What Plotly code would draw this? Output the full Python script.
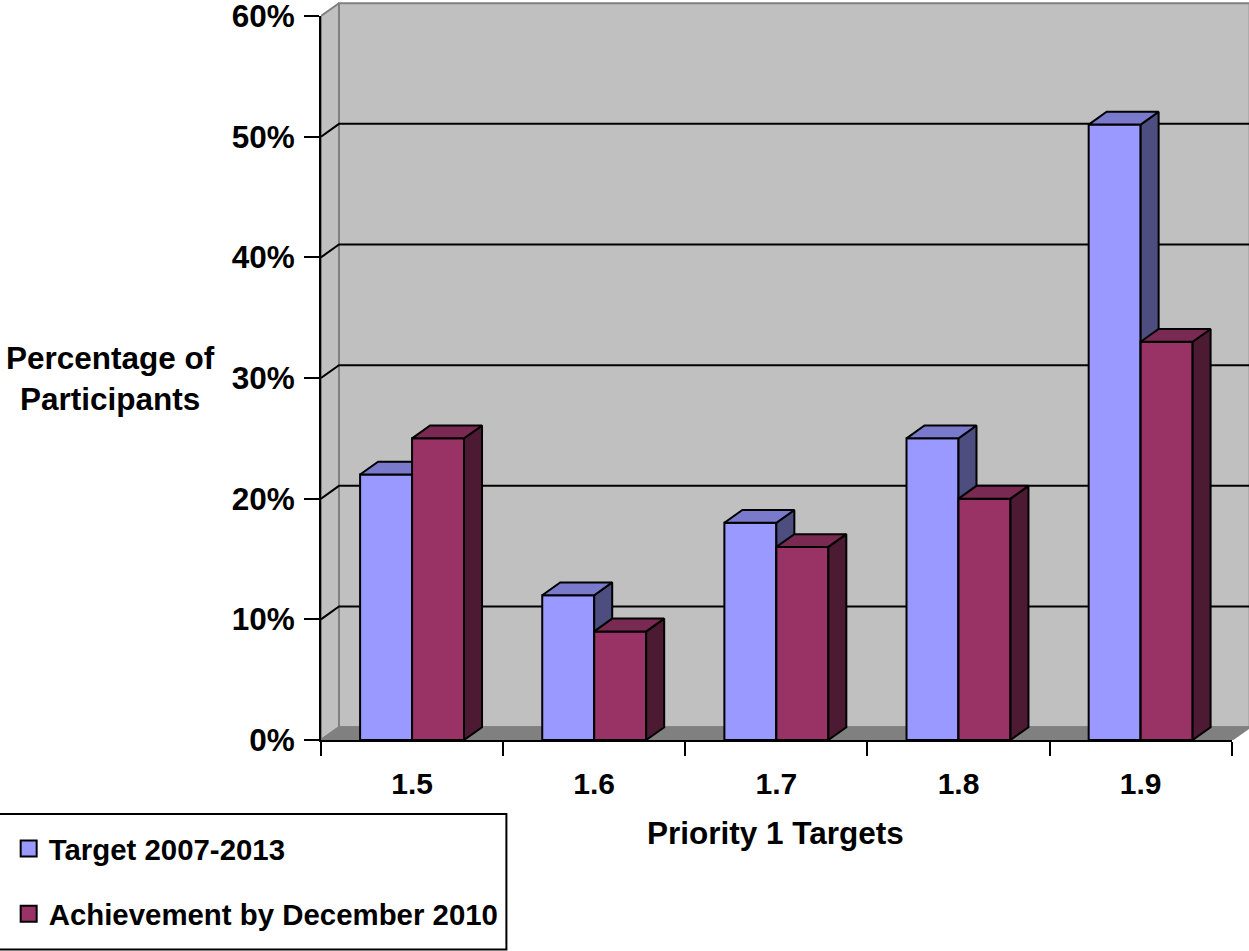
import plotly.graph_objects as go

# Chart data
categories = ["1.5", "1.6", "1.7", "1.8", "1.9"]
target_values = [22, 12, 18, 25, 51]
achievement_values = [25, 9, 16, 20, 33]
y_ticks = [0, 10, 20, 30, 40, 50, 60]
series_names = ["Target 2007-2013", "Achievement by December 2010"]

# Figure geometry (pixels)
WIDTH, HEIGHT = 1249, 951
LEFT, RIGHT, TOP, BOTTOM = 320.5, 1231.7, 16, 740
PLOT_TOP = 1

# Axis ranges, and the oblique depth of the pseudo-3D box in axis units
X_MIN, X_MAX = 1.45, 1.95
Y_MIN, Y_MAX = 0, 60
x_scale = (RIGHT - LEFT) / (X_MAX - X_MIN)
y_scale = (BOTTOM - TOP) / (Y_MAX - Y_MIN)
X_FULL = X_MIN + (WIDTH - LEFT) / x_scale
Y_FULL = Y_MIN + (BOTTOM - PLOT_TOP) / y_scale
DX = 18 / x_scale
DY = 12.8 / y_scale
BAR_W = 52 / x_scale

FONT = "Liberation Sans"
BLACK = "#000000"
WALL = "#C0C0C0"
FLOOR = "#808080"
COLORS = {
    "target": ("#9999FF", "#4D4D80", "#7A7ACC"),
    "achievement": ("#993366", "#4D1A33", "#7A2952"),
}


def paper_x(px):
    return (px - LEFT) / (WIDTH - LEFT)


def paper_y(py):
    return (BOTTOM - py) / (BOTTOM - PLOT_TOP)


def polygon(xs, ys, fill, line, width, xaxis="x", yaxis="y"):
    return go.Scatter(
        x=xs, y=ys, mode="lines", fill="toself", fillcolor=fill,
        line=dict(color=line, width=width),
        hoverinfo="skip", showlegend=False, xaxis=xaxis, yaxis=yaxis,
    )


def box_faces(left_edges, values):
    """Outline the right side and the top of every bar as separate polygons."""
    side_x, side_y, top_x, top_y = [], [], [], []
    for x0, v in zip(left_edges, values):
        x1 = x0 + BAR_W
        side_x += [x1, x1 + DX, x1 + DX, x1, x1, None]
        side_y += [0, DY, v + DY, v, 0, None]
        top_x += [x0, x0 + DX, x1 + DX, x1, x0, None]
        top_y += [v, v + DY, v + DY, v, v, None]
    return side_x, side_y, top_x, top_y


centers = [float(c) for c in categories]
fig = go.Figure()

# Walls and floor of the box
fig.add_trace(polygon(
    [X_MIN, X_MIN + DX, X_MIN + DX, X_MIN, X_MIN],
    [Y_MIN, Y_MIN + DY, Y_MAX + DY, Y_MAX, Y_MIN], WALL, FLOOR, 2))
fig.add_trace(polygon(
    [X_MIN + DX, X_MAX + DX, X_MAX + DX, X_MIN + DX, X_MIN + DX],
    [Y_MIN + DY, Y_MIN + DY, Y_MAX + DY, Y_MAX + DY, Y_MIN + DY], WALL, FLOOR, 2))
fig.add_trace(polygon(
    [X_MIN, X_MIN + DX, X_MAX + DX, X_MAX, X_MIN],
    [Y_MIN, Y_MIN + DY, Y_MIN + DY, Y_MIN, Y_MIN], FLOOR, FLOOR, 2))

# Gridlines run across the side wall and then along the back wall
grid_x, grid_y = [], []
for t in y_ticks[1:-1]:
    grid_x += [X_MIN, X_MIN + DX, X_MAX + DX, None]
    grid_y += [t, t + DY, t + DY, None]
fig.add_trace(go.Scatter(
    x=grid_x, y=grid_y, mode="lines", line=dict(color=BLACK, width=2),
    hoverinfo="skip", showlegend=False))

# Target bars sit on their own overlay above the walls
target_left = [c - BAR_W for c in centers]
front, side, top = COLORS["target"]
fig.add_trace(go.Bar(
    x=centers, y=target_values, width=BAR_W, offset=-BAR_W, name=series_names[0],
    marker=dict(color=front, line=dict(color=BLACK, width=2)), showlegend=False,
    xaxis="x2", yaxis="y2"))
sx, sy, tx, ty = box_faces(target_left, target_values)
fig.add_trace(polygon(sx, sy, side, BLACK, 2, "x2", "y2"))
fig.add_trace(polygon(tx, ty, top, BLACK, 2, "x2", "y2"))

# Achievement bars come next so they hide the target side faces
front, side, top = COLORS["achievement"]
fig.add_trace(go.Bar(
    x=centers, y=achievement_values, width=BAR_W, offset=0, name=series_names[1],
    marker=dict(color=front, line=dict(color=BLACK, width=2)), showlegend=False,
    xaxis="x3", yaxis="y3"))
sx, sy, tx, ty = box_faces(centers, achievement_values)
fig.add_trace(polygon(sx, sy, side, BLACK, 2, "x3", "y3"))
fig.add_trace(polygon(tx, ty, top, BLACK, 2, "x3", "y3"))

# Legend entries with large square swatches; they also bring up the visible axes
for name, key in zip(series_names, COLORS):
    fig.add_trace(go.Scatter(
        x=[None], y=[None], mode="markers", name=name, legendgroup=name,
        marker=dict(symbol="square", size=17, color=COLORS[key][0],
                    line=dict(color=BLACK, width=2)),
        xaxis="x4", yaxis="y4"))


def hidden_axis(range_, **kw):
    return dict(range=range_, visible=False, **kw)


title_font = dict(family=FONT, size=31.5, color=BLACK, weight="bold")

fig.update_layout(
    width=WIDTH, height=HEIGHT,
    margin=dict(l=LEFT, r=0, t=PLOT_TOP, b=HEIGHT - BOTTOM, autoexpand=False, pad=0),
    paper_bgcolor="white", plot_bgcolor="rgba(0,0,0,0)",
    barmode="overlay",
    xaxis=hidden_axis([X_MIN, X_FULL], anchor="y"),
    yaxis=hidden_axis([Y_MIN, Y_FULL], anchor="x"),
    xaxis2=hidden_axis([X_MIN, X_FULL], overlaying="x", anchor="y2"),
    yaxis2=hidden_axis([Y_MIN, Y_FULL], overlaying="y", anchor="x2"),
    xaxis3=hidden_axis([X_MIN, X_FULL], overlaying="x", anchor="y3"),
    yaxis3=hidden_axis([Y_MIN, Y_FULL], overlaying="y", anchor="x3"),
    # The visible axes span only the front face of the box
    xaxis4=dict(
        domain=[0, (RIGHT - LEFT) / (WIDTH - LEFT)], range=[X_MIN, X_MAX], anchor="y4",
        tickmode="array", tickvals=centers, ticktext=categories,
        ticks="outside", ticklen=14, tickwidth=2, tickcolor="rgba(0,0,0,0)",
        ticklabelstandoff=2,
        tickfont=dict(family=FONT, size=30, color=BLACK, weight="bold"),
        minor=dict(
            tickmode="array",
            tickvals=[c - 0.05 for c in centers] + [centers[-1] + 0.05],
            ticks="outside", ticklen=14, tickwidth=2, tickcolor=BLACK,
            showgrid=False,
        ),
        showline=True, linecolor=BLACK, linewidth=2, showgrid=False, zeroline=False,
    ),
    yaxis4=dict(
        domain=[0, (BOTTOM - TOP) / (BOTTOM - PLOT_TOP)], range=[Y_MIN, Y_MAX], anchor="x4",
        tickmode="array", tickvals=y_ticks, ticktext=[f"{t}%" for t in y_ticks],
        tickfont=dict(family=FONT, size=31.5, color=BLACK, weight="bold"),
        ticks="outside", ticklen=15, tickwidth=2, tickcolor=BLACK,
        ticklabelstandoff=3, ticklabeloverflow="allow",
        showline=True, linecolor=BLACK, linewidth=2, showgrid=False, zeroline=False,
    ),
    legend=dict(
        x=paper_x(8), xanchor="left", xref="paper",
        y=paper_y(823), yanchor="top", yref="paper",
        bgcolor="rgba(0,0,0,0)", borderwidth=0,
        font=dict(family=FONT, size=29.4, color=BLACK, weight="bold"),
        tracegroupgap=24, itemclick=False, itemdoubleclick=False,
    ),
    shapes=[dict(
        type="rect", xref="paper", yref="paper", layer="below",
        x0=paper_x(-2), x1=paper_x(506), y0=paper_y(814), y1=paper_y(949.5),
        line=dict(color=BLACK, width=2), fillcolor="white",
    )],
    annotations=[
        dict(text="Percentage of<br>Participants", xref="paper", yref="paper",
             x=paper_x(109.5), y=paper_y(378), xanchor="center", yanchor="middle",
             showarrow=False, font=title_font, align="center"),
        dict(text="Priority 1 Targets", xref="paper", yref="paper",
             x=paper_x(775), y=paper_y(833), xanchor="center", yanchor="middle",
             showarrow=False, font=title_font),
    ],
)

fig.write_html("out.html")
